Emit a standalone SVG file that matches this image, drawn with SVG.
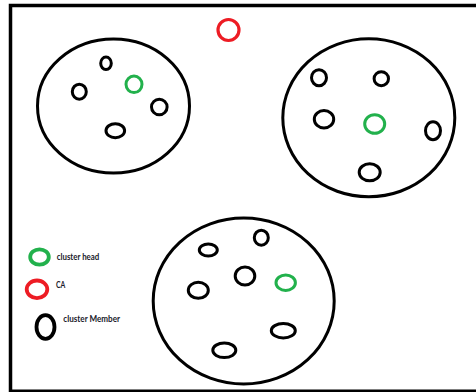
<svg xmlns="http://www.w3.org/2000/svg" width="476" height="392" viewBox="0 0 476 392">
<style>
.frame{fill:none;stroke:#000;stroke-width:3.5}
.cl{fill:none;stroke:#000;stroke-width:3}
.m{fill:none;stroke:#000;stroke-width:3}
.h{fill:none;stroke:#22b14c;stroke-width:3}
.ca{fill:none;stroke:#ed1c24;stroke-width:3.2}
.lg{stroke-width:3.8}
.t{font-family:Lato,"Liberation Sans",sans-serif;font-weight:bold;font-size:8.5px;fill:#1a1a2a}
</style>
<rect width="476" height="392" fill="#fff"/>
<path class="frame" d="M10.5,392 V5.5 H480"/>
<path d="M10,390.8 H480" stroke="#000" stroke-width="2.5"/>
<g id="ca">
<ellipse class="ca" cx="228.5" cy="30" rx="10.5" ry="10.5"/>
</g>
<g id="cluster1">
<ellipse class="cl" cx="113.5" cy="106" rx="76" ry="67"/>
<ellipse class="m" cx="106" cy="63.3" rx="5.3" ry="6.3"/>
<ellipse class="m" cx="79.3" cy="91.7" rx="7" ry="7.5"/>
<ellipse class="h" cx="134" cy="84.3" rx="8" ry="8.3"/>
<ellipse class="m" cx="159.3" cy="107" rx="7.8" ry="7.8"/>
<ellipse class="m" cx="115.3" cy="130.7" rx="9.3" ry="7"/>
</g>
<g id="cluster2">
<ellipse class="cl" cx="368.8" cy="117.8" rx="86" ry="79"/>
<ellipse class="m" cx="319" cy="77.7" rx="7.5" ry="8"/>
<ellipse class="m" cx="381.3" cy="78.7" rx="7.2" ry="7"/>
<ellipse class="m" cx="324" cy="119.3" rx="9.7" ry="8.7"/>
<ellipse class="h" cx="374.7" cy="124" rx="10" ry="9.3"/>
<ellipse class="m" cx="433" cy="130.7" rx="7.5" ry="9"/>
<ellipse class="m" cx="369.7" cy="172.3" rx="10.5" ry="8.5"/>
</g>
<g id="cluster3">
<ellipse class="cl" cx="243.7" cy="301" rx="90.5" ry="83"/>
<ellipse class="m" cx="208.3" cy="250" rx="9" ry="6"/>
<ellipse class="m" cx="261.3" cy="237.7" rx="7" ry="7.5"/>
<ellipse class="m" cx="198.3" cy="290.3" rx="10" ry="8"/>
<ellipse class="m" cx="245" cy="276" rx="9.8" ry="9"/>
<ellipse class="h" cx="285.7" cy="282.7" rx="9.7" ry="7.7"/>
<ellipse class="m" cx="283.3" cy="330.7" rx="12" ry="7.2"/>
<ellipse class="m" cx="224.3" cy="350.3" rx="11.5" ry="7.3"/>
</g>
<g id="legend">
<ellipse class="h lg" cx="39.5" cy="257" rx="9.3" ry="7.7"/>
<text class="t" x="56.7" y="260" textLength="42.6" lengthAdjust="spacingAndGlyphs">cluster head</text>
<ellipse class="ca lg" cx="37" cy="289.3" rx="10.3" ry="8.8"/>
<text class="t" x="56" y="287.7" textLength="9.3" lengthAdjust="spacingAndGlyphs">CA</text>
<ellipse class="m lg" cx="45.5" cy="327" rx="9" ry="11.8"/>
<text class="t" x="63.3" y="322" textLength="56.7" lengthAdjust="spacingAndGlyphs">cluster Member</text>
</g>
</svg>
